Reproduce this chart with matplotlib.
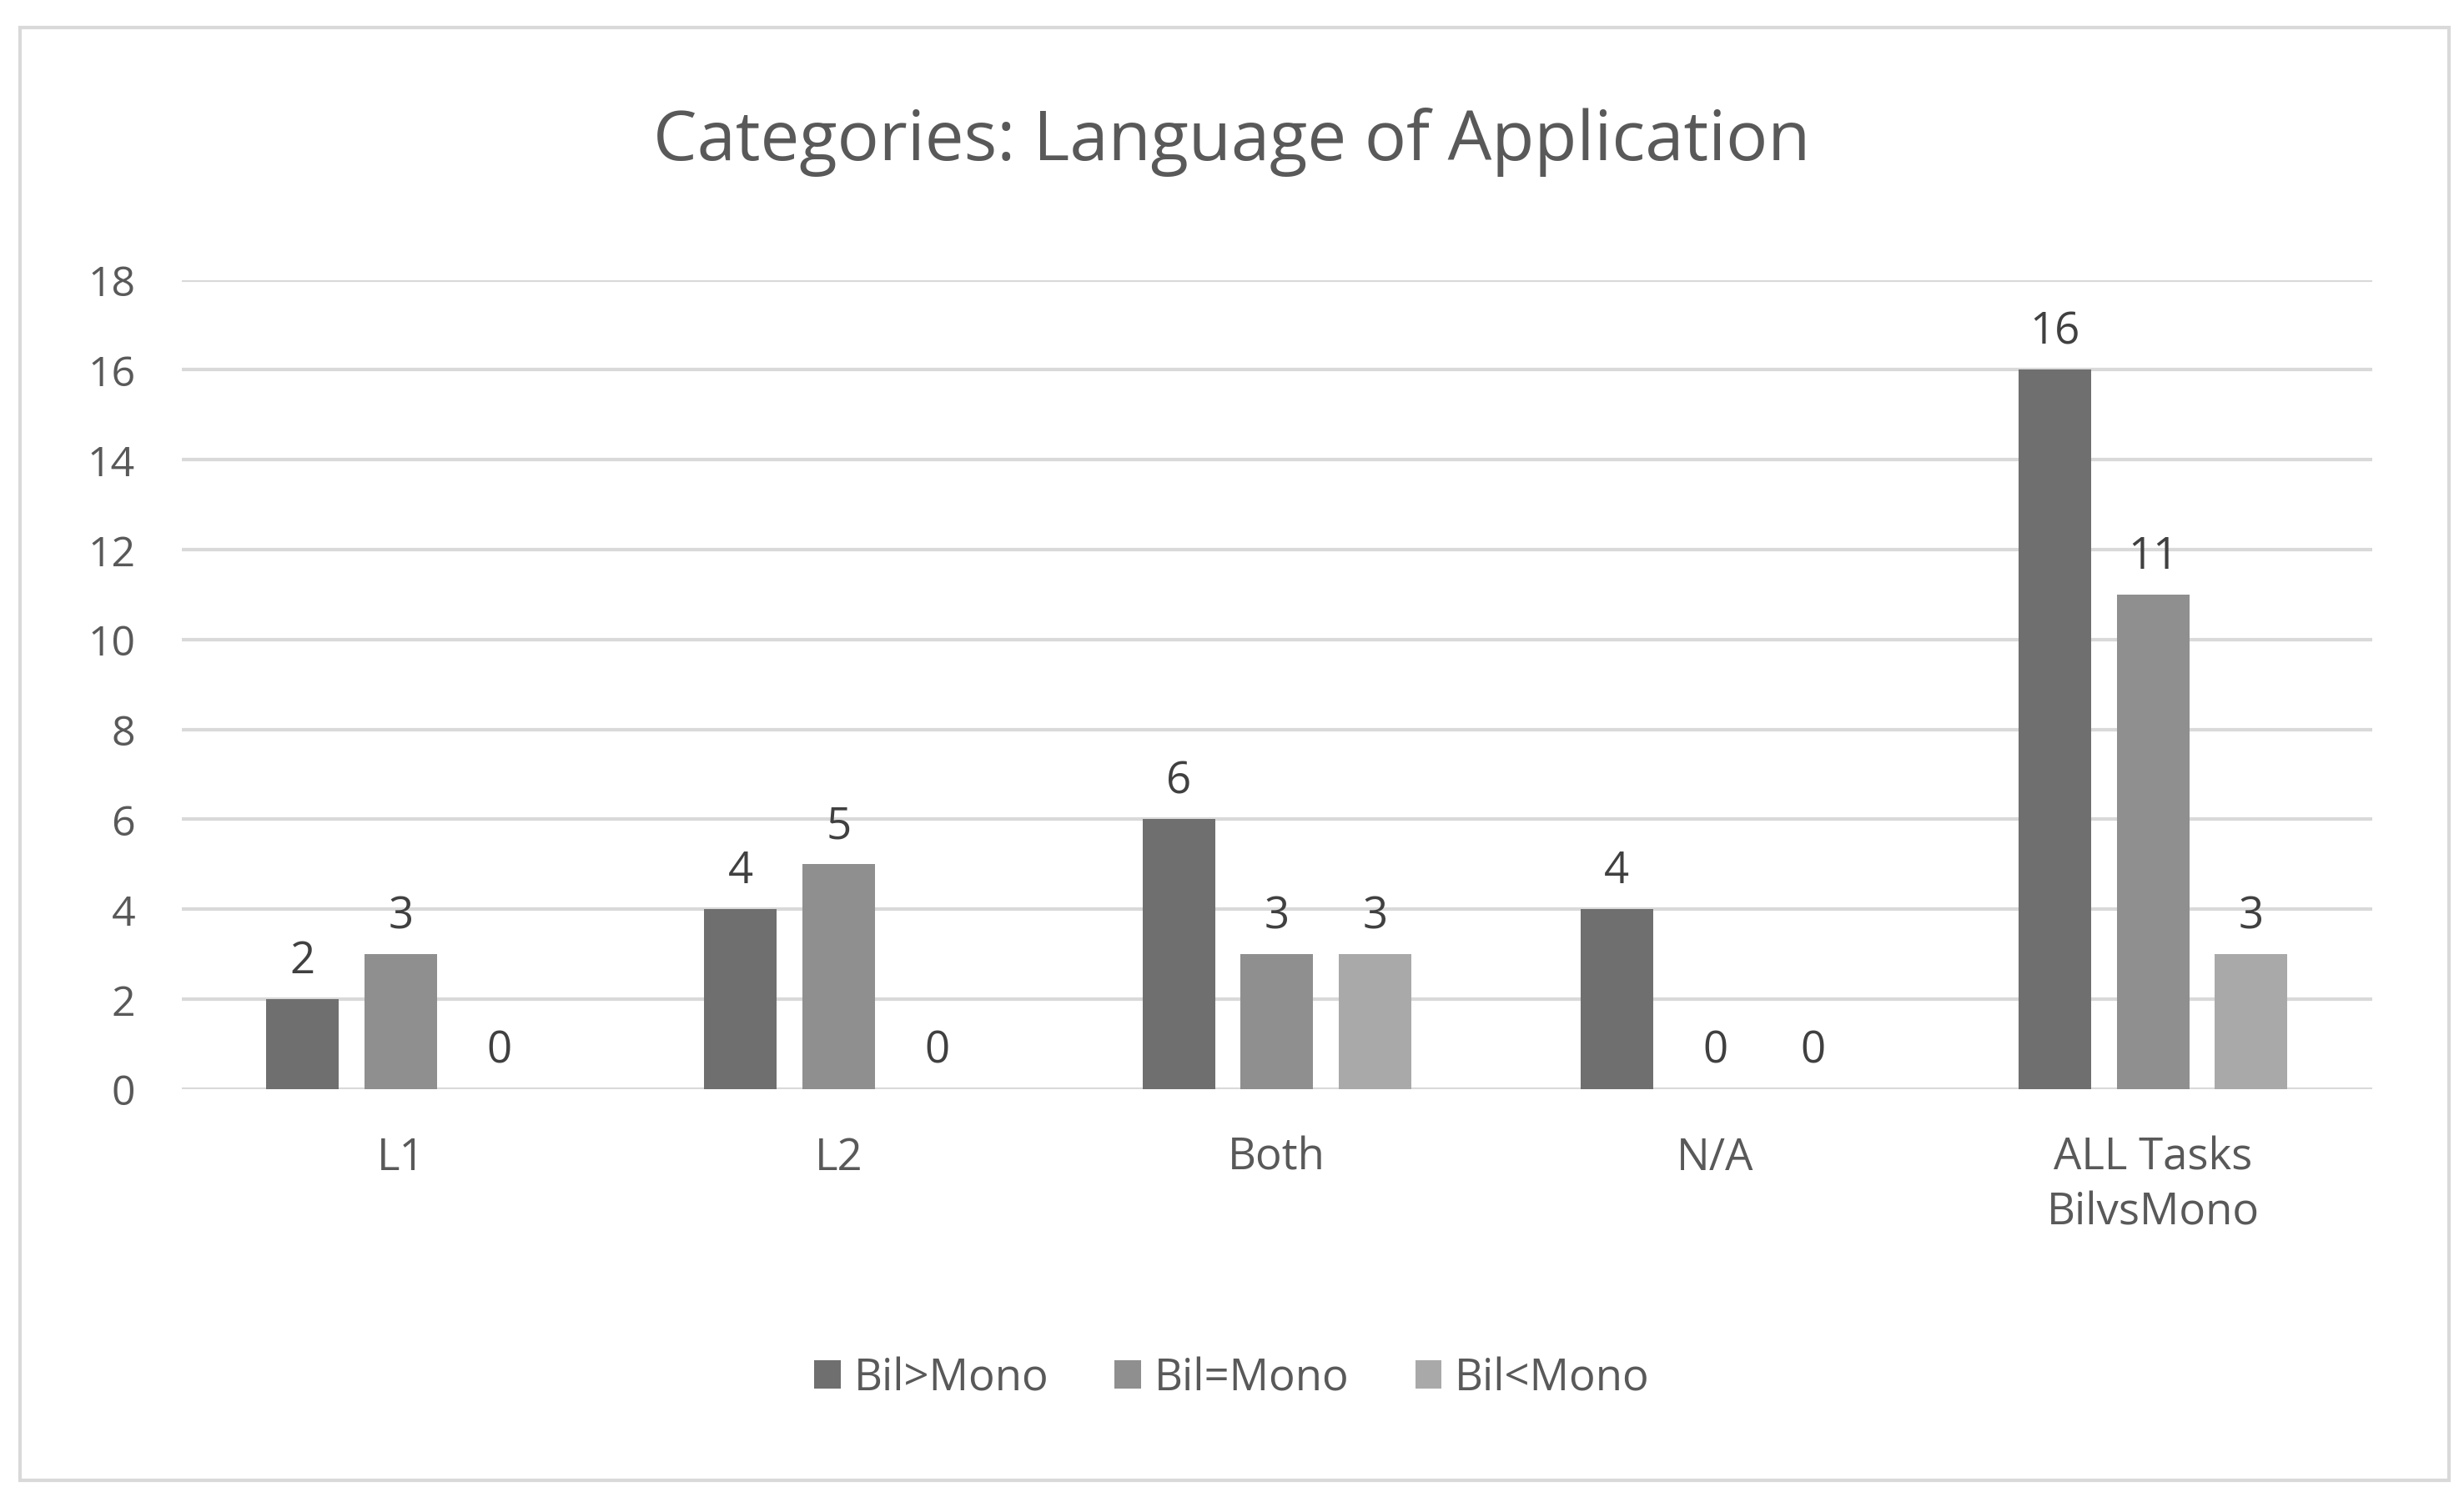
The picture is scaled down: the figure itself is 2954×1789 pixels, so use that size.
import matplotlib
matplotlib.use("Agg")
import matplotlib.pyplot as plt
import numpy as np
from matplotlib.patches import Rectangle

categories = ["L1", "L2", "Both", "N/A", "ALL Tasks\nBilvsMono"]
series_names = ["Bil>Mono", "Bil=Mono", "Bil<Mono"]
bil_gt = [2, 4, 6, 4, 16]
bil_eq = [3, 5, 3, 0, 11]
bil_lt = [0, 0, 3, 0, 3]
colors = ["#6f6f6f", "#8f8f8f", "#a9a9a9"]

plt.rcParams['font.family'] = ['Open Sans', 'DejaVu Sans']
fig = plt.figure(figsize=(29.54, 17.90), dpi=100)
fig.patches.append(Rectangle((0.008, 0.008), 0.986, 0.973, transform=fig.transFigure,
                             fill=False, edgecolor="#d9d9d9", linewidth=3))
ax = fig.add_axes([0.0737, 0.270, 0.889, 0.542])
x = np.arange(len(categories))
w = 0.166
step = 0.224
for i, (vals, c, n) in enumerate(zip([bil_gt, bil_eq, bil_lt], colors, series_names)):
    pos = x + (i - 1) * step
    bars = ax.bar(pos, vals, w, color=c, label=n, zorder=3)
    for p, v in zip(pos, vals):
        ax.text(p, v + 0.35, str(v), ha="center", va="bottom", fontsize=38, color="#404040")
ax.set_xlim(-0.5, len(categories) - 0.5)
ax.set_ylim(0, 18)
ax.set_yticks(range(0, 19, 2))
ax.yaxis.grid(True, color="#d9d9d9", linewidth=3, zorder=0)
for s in ax.spines.values():
    s.set_visible(False)
ax.tick_params(axis="both", length=0, labelsize=36, labelcolor="#595959")
ax.tick_params(axis="y", pad=40)
ax.tick_params(axis="x", pad=40)
ax.set_xticks(x)
ax.set_xticklabels(categories, fontsize=38, linespacing=1.3)
fig.text(0.5, 0.905, "Categories: Language of Application", ha="center", va="center",
         fontsize=60, color="#595959")
fig.legend(loc="center", bbox_to_anchor=(0.5, 0.076), ncol=3, frameon=False,
           fontsize=38, handlelength=0.6, handleheight=0.6, handletextpad=0.3,
           columnspacing=1.5, labelcolor="#595959")
fig.savefig("out.png", dpi=100)
